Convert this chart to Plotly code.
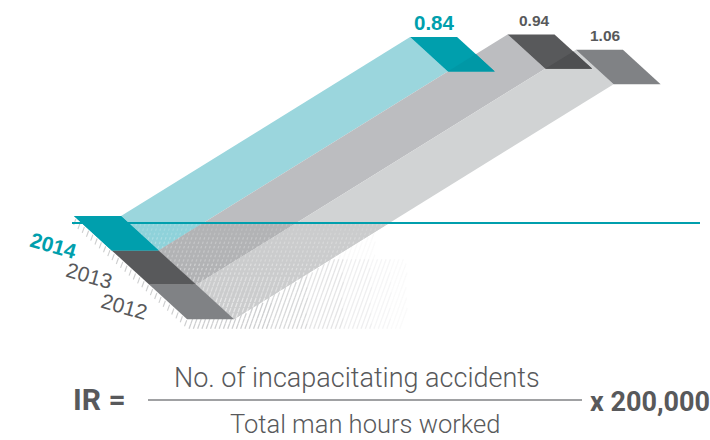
import numpy as np
import plotly.graph_objects as go

# ---------- data ----------
years = ["2014", "2013", "2012"]
rates = [0.84, 0.94, 1.06]
# drawn length of each ribbon in the artwork (not strictly to scale with the rate)
drawn_depth = [179, 216, 235]
label_text = [f"{r:.2f}" for r in rates]

# ---------- styles ----------
end_colors = ["#009fad", "#58595b", "#808285"]
end_overlap = ["#0098a6", "#4e4f51", "#808285"]
ribbon_colors = ["#9bd6dd", "#bcbdc0", "#d1d3d4"]
lower_colors = ["#8fd2da", "#b2b3b5", "#cbcccd"]
text_grey = "#58595b"
teal = "#009fad"

# ---------- oblique projection of the chart plane ----------
O = np.array([74.0, 216.0])       # back-left corner of the first row
ROW = np.array([37.7, 34.4])      # one row toward the viewer
W = np.array([47.0, 0.0])         # width of a row
D = np.array([1.615, -1.0])       # one depth unit
HORIZON = 223.0


def P(row, across, depth=0.0):
    return O + ROW * row + W * across + D * depth


def front(i):
    return [P(i, 0), P(i, 1), P(i + 1, 1), P(i + 1, 0)]


def ribbon(i):
    return [P(i, 1), P(i, 1, drawn_depth[i]), P(i + 1, 1, drawn_depth[i]), P(i + 1, 1)]


def end(i):
    d = drawn_depth[i]
    return [P(i, 1, d), P(i, 2, d), P(i + 1, 2, d), P(i + 1, 1, d)]


def clip(poly, edge_a, edge_b):
    """Keep the part of poly on the left of the edge a->b (Sutherland-Hodgman)."""
    out = []

    def side(p):
        return (edge_b[0] - edge_a[0]) * (p[1] - edge_a[1]) - (edge_b[1] - edge_a[1]) * (p[0] - edge_a[0])

    for j, cur in enumerate(poly):
        prev = poly[j - 1]
        sc, sp = side(cur), side(prev)
        if (sc >= 0) != (sp >= 0):
            t = sp / (sp - sc)
            out.append(np.array(prev) + (np.array(cur) - np.array(prev)) * t)
        if sc >= 0:
            out.append(np.array(cur))
    return out


def clip_convex(poly, region):
    area = sum(region[k][0] * region[(k + 1) % len(region)][1] - region[(k + 1) % len(region)][0] * region[k][1]
               for k in range(len(region)))
    reg = region if area > 0 else region[::-1]
    res = poly
    for k in range(len(reg)):
        if not res:
            break
        res = clip(res, reg[k], reg[(k + 1) % len(reg)])
    return res


def below(poly, y):
    a, b = np.array([0.0, y]), np.array([710.0, y])
    return clip(poly, a, b)


def inside(pt, poly):
    signs = []
    for k in range(len(poly)):
        a, b = poly[k], poly[(k + 1) % len(poly)]
        signs.append((b[0] - a[0]) * (pt[1] - a[1]) - (b[1] - a[1]) * (pt[0] - a[0]))
    return all(s >= 0 for s in signs) or all(s <= 0 for s in signs)


fig = go.Figure()


def add_poly(poly, color):
    xs = [float(p[0]) for p in poly] + [float(poly[0][0])]
    ys = [float(p[1]) for p in poly] + [float(poly[0][1])]
    fig.add_trace(go.Scatter(x=xs, y=ys, mode="lines", fill="toself", fillcolor=color,
                             line=dict(width=0, color=color), hoverinfo="skip", showlegend=False))


def add_segments(segs, color, width):
    if not segs:
        return
    xs, ys = [], []
    for (a, b) in segs:
        xs += [float(a[0]), float(b[0]), None]
        ys += [float(a[1]), float(b[1]), None]
    fig.add_trace(go.Scatter(x=xs, y=ys, mode="lines", line=dict(color=color, width=width),
                             hoverinfo="skip", showlegend=False))


# ribbons
for i in range(3):
    add_poly(ribbon(i), ribbon_colors[i])
    low = below(ribbon(i), HORIZON)
    if low:
        add_poly(low, lower_colors[i])

# floor texture: steep hatch family, dots on the ribbons, plain lines on the floor
lows = [below(ribbon(i), HORIZON) for i in range(3)]
LEAN = 0.36
SPACING = 4.3
BOTTOM = 327.0
on_bands = {0.16: [], 0.26: [], 0.38: [], 0.52: []}
off_bands = {0.1: [], 0.2: [], 0.35: [], 0.55: [], 0.8: [], 1.0: []}
for xk in np.arange(140.0, 520.0, SPACING):
    y = HORIZON + 1.0
    while y < BOTTOM:
        lo = y > 275
        seg = 4.4 if lo else 2.4
        gap = 0.8 if lo else 2.0
        a = np.array([xk - (y - BOTTOM) * LEAN - 118, y])
        b = np.array([a[0] - seg * LEAN, y + seg])
        mid = (a + b) / 2
        if any(inside(mid, p) for p in lows):
            alpha = 0.16 + 0.36 * min(1.0, max(0.0, (y - HORIZON) / 90.0))
            key = min(on_bands, key=lambda v: abs(v - alpha))
            on_bands[key].append((a, b))
        else:
            last = P(3, 1)
            if mid[0] > last[0] - 45 and mid[1] > 232:
                fade = 1.0 - max(0.0, (mid[0] - 255)) / 160.0
                if mid[1] < 258:
                    fade *= 0.2
                if fade > 0.05:
                    key = min(off_bands, key=lambda v: abs(v - fade))
                    off_bands[key].append((a, np.array([b[0] - gap * LEAN, b[1] + gap])))
        y += seg + gap

for k, segs in on_bands.items():
    add_segments(segs, f"rgba(255,255,255,{k})", 1.3)
for k, segs in off_bands.items():
    add_segments(segs, f"rgba(205,206,208,{k})", 1.3)

# short ticks hanging off the front-left edge of the rows
ticks = []
edge_a, edge_b = P(0, 0), P(3, 0)
n_ticks = int(np.hypot(*(edge_b - edge_a)) / 5.6)
for t in np.linspace(0.02, 1.0, n_ticks):
    p = edge_a + (edge_b - edge_a) * t
    ticks.append((p + np.array([-0.4, 1.0]), p + np.array([-2.6, 7.0])))
add_segments(ticks, "rgba(170,171,173,0.6)", 1.1)

# rows at the front
for i in range(3):
    add_poly(front(i), end_colors[i])

# horizon line (drawn over ribbons, under the first row)
fig.add_trace(go.Scatter(x=[72, 700], y=[HORIZON, HORIZON], mode="lines",
                         line=dict(color=teal, width=1.8), hoverinfo="skip", showlegend=False))
add_poly(front(0), end_colors[0])

# far ends of the ribbons
for i in range(3):
    add_poly(end(i), end_colors[i])
    if i < 2:
        ov = clip_convex(end(i), ribbon(i + 1))
        if ov:
            add_poly(ov, end_overlap[i])

# value labels above the far ends
label_font = [dict(size=20.5, color=teal, family="Liberation Sans", weight="bold"),
              dict(size=15.5, color=text_grey, family="Liberation Sans", weight="bold"),
              dict(size=15.5, color=text_grey, family="Liberation Sans", weight="bold")]
label_shift = [(1.51, -14.5), (1.57, -13.5), (1.62, -14)]
for i in range(3):
    pos = P(i, label_shift[i][0], drawn_depth[i])
    fig.add_annotation(x=pos[0], y=pos[1] + label_shift[i][1], text=label_text[i], showarrow=False,
                       font=label_font[i], xanchor="center", yanchor="middle")

# year labels
for i, yr in enumerate(years):
    pos = P(i + 0.5, -0.56) + np.array([-13.0 - 2.2 * i, 12.0 - 4.0 * i])
    fig.add_annotation(x=pos[0], y=pos[1], text=yr, textangle=16, showarrow=False,
                       font=dict(size=21, color=teal if i == 0 else text_grey, family="Liberation Sans",
                                 weight="bold" if i == 0 else "normal"),
                       xanchor="center", yanchor="middle")

# formula
body = "Roboto"
fig.add_trace(go.Scatter(x=[148, 582], y=[400, 400], mode="lines", line=dict(color="#808285", width=1.5),
                         hoverinfo="skip", showlegend=False))
fig.add_annotation(x=99.5, y=399, text="IR =", showarrow=False,
                   font=dict(size=30, color=text_grey, family=body, weight="bold"))
fig.add_annotation(x=357, y=378, text="No. of incapacitating accidents", showarrow=False,
                   font=dict(size=27, color=text_grey, family=body, weight=300))
fig.add_annotation(x=364.5, y=424, text="Total man hours worked", showarrow=False,
                   font=dict(size=25.5, color=text_grey, family=body, weight=300))
fig.add_annotation(x=650, y=402, text="x 200,000", showarrow=False,
                   font=dict(size=27, color=text_grey, family=body, weight="bold"))

fig.update_xaxes(range=[0, 710], visible=False, fixedrange=True)
fig.update_yaxes(range=[440, 0], visible=False, fixedrange=True)
fig.update_layout(width=710, height=440, margin=dict(l=0, r=0, t=0, b=0),
                  paper_bgcolor="white", plot_bgcolor="white", showlegend=False)
fig.write_html("out.html", config=dict(displayModeBar=False),
               post_script="document.body.style.margin='0';document.body.style.overflow='hidden';")
